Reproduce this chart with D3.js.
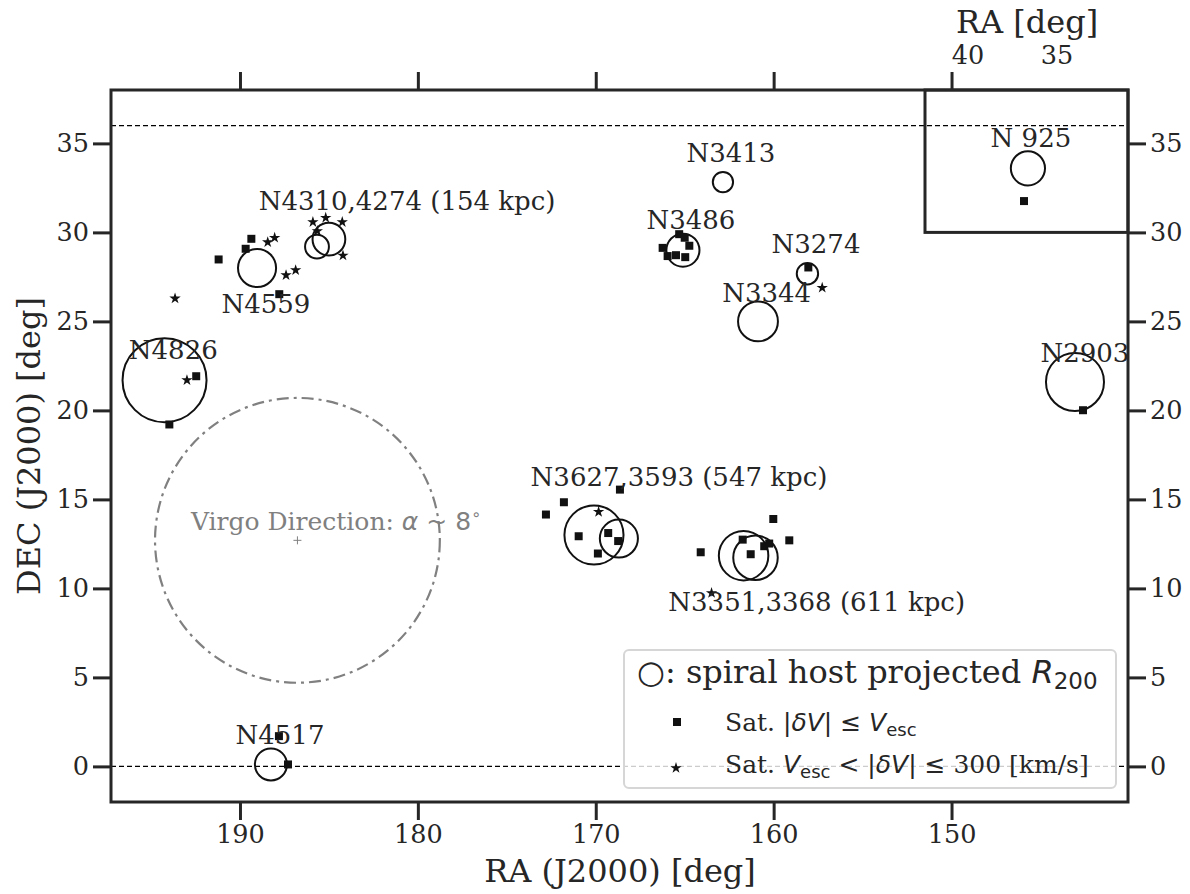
<!DOCTYPE html>
<html>
<head>
<meta charset="utf-8">
<script src="https://cdn.jsdelivr.net/npm/d3@7"></script>
<style>
body { margin: 0; background: #fff; }
text { font-family: "DejaVu Serif", serif; fill: #262626; }
</style>
</head>
<body>
<div id="chart-area"></div>
<script>
// spiral hosts (RA, DEC in deg, projected R200 in deg)
var hostName = ["N4826", "N4559", "N4310", "N4274", "N3413", "N3486", "N3274", "N3344", "N2903", "N3627", "N3593", "N3368", "N3351", "N4517"]
var hostRA = [194.24, 189.04, 185.67, 185.0, 162.85, 165.1, 158.1, 160.88, 143.06, 170.1, 168.7, 161.69, 161.02, 188.26]
var hostDec = [21.7, 28.0, 29.2, 29.62, 32.83, 29.0, 27.68, 25.0, 21.6, 13.0, 12.8, 11.84, 11.72, 0.11]
var hostR200 = [2.36, 1.07, 0.67, 0.92, 0.57, 0.93, 0.6, 1.12, 1.63, 1.66, 1.07, 1.39, 1.25, 0.9]

// satellites with |dV| <= Vesc
var boundRA = [189.36, 189.68, 191.20, 187.79, 192.46, 193.97, 165.31, 165.0, 166.24, 164.74, 165.96, 165.49, 164.97, 158.05,
  172.80, 171.79, 168.64, 170.96, 169.30, 168.74, 169.88, 164.10, 161.74, 161.29, 160.53, 160.25, 160.02, 159.12, 187.81, 187.30, 142.61]
var boundDec = [29.64, 29.08, 28.48, 26.53, 21.92, 19.21, 29.90, 29.70, 29.13, 29.25, 28.67, 28.72, 28.61, 28.03,
  14.15, 14.84, 15.55, 12.93, 13.11, 12.66, 11.96, 12.03, 12.74, 11.92, 12.37, 12.52, 13.90, 12.70, 1.70, 0.11, 20.01]

// satellites with Vesc < |dV| <= 300 km/s
var unboundRA = [188.44, 188.05, 187.41, 186.87, 193.65, 185.90, 185.18, 184.25, 185.65, 184.21, 192.98, 157.27, 169.84, 163.49]
var unboundDec = [29.45, 29.70, 27.60, 27.88, 26.29, 30.58, 30.82, 30.58, 30.08, 28.70, 21.70, 26.89, 14.30, 9.74]

// annotation labels
var labelText = ["N4310,4274 (154 kpc)", "N4559", "N4826", "N3413", "N3486", "N3274", "N3344", "N2903", "N3627,3593 (547 kpc)", "N3351,3368 (611 kpc)", "N4517"]
var labelRA = [180.61, 188.54, 193.75, 162.40, 164.65, 157.62, 160.39, 142.5, 165.32, 157.58, 187.75]
var labelDec = [31.25, 25.5, 22.88, 33.95, 30.17, 28.85, 26.1, 22.7, 15.74, 8.73, 1.27]

// N925 inset
var insetRA = [36.63], insetDec = [33.6], insetR200 = [0.96]
var insetSatRA = [36.85], insetSatDec = [31.76]
var insetTicks = [40, 35]

// Virgo direction
var virgoRA = 186.77, virgoDec = 12.7, virgoR = 8.0

var xTicks = [190, 180, 170, 160, 150]
var yTicks = [0, 5, 10, 15, 20, 25, 30, 35]

var W = 1190, H = 894
var m = {left: 111, right: 1128, top: 90, bottom: 802}

var svg = d3.select("#chart-area").append("svg")
.attr("width", W)
.attr("height", H)

var x = d3.scaleLinear().domain([197.25, 140.08]).range([m.left, m.right])
var y = d3.scaleLinear().domain([-2, 38]).range([m.bottom, m.top])
var xi = d3.scaleLinear().domain([42.42, 31.0]).range([925, m.right])
var rpx = r => y(0) - y(r)

var ink = "#262626"

// dashed DEC limits
svg.selectAll(".dec-line").data([0, 36]).enter().append("line")
.attr("x1", m.left).attr("x2", m.right)
.attr("y1", d => y(d)).attr("y2", d => y(d))
.attr("stroke", "#000").attr("stroke-width", 1.2)
.attr("stroke-dasharray", "5,3")

// Virgo circle
svg.append("circle")
.attr("cx", x(virgoRA)).attr("cy", y(virgoDec)).attr("r", rpx(virgoR))
.attr("fill", "none").attr("stroke", "#808080").attr("stroke-width", 2.2)
.attr("stroke-dasharray", "12,5,3,5")
svg.append("g").attr("transform", "translate(" + x(virgoRA) + "," + y(virgoDec) + ")")
.selectAll("line").data([[-4, 0, 4, 0], [0, -4, 0, 4]]).enter().append("line")
.attr("x1", d => d[0]).attr("y1", d => d[1]).attr("x2", d => d[2]).attr("y2", d => d[3])
.attr("stroke", "#808080").attr("stroke-width", 1)

var vt = svg.append("text")
.attr("x", x(184.6)).attr("y", y(13.27))
.attr("text-anchor", "middle")
.attr("font-size", "25px")
.style("fill", "#808080")
vt.append("tspan").style("fill", "#808080").text("Virgo Direction: ")
vt.append("tspan").style("font-family", "DejaVu Sans").style("font-style", "italic").style("fill", "#808080").text("α")
vt.append("tspan").style("font-family", "DejaVu Sans").style("fill", "#808080").text(" ~ 8")
vt.append("tspan").style("font-family", "DejaVu Sans").style("fill", "#808080").attr("font-size", "16px").attr("dy", -10).text("∘")

// host circles
svg.selectAll(".host").data(hostRA).enter().append("circle")
.attr("class", "host")
.attr("cx", (d) => x(d))
.attr("cy", (d, i) => y(hostDec[i]))
.attr("r", (d, i) => rpx(hostR200[i]))
.attr("fill", "none").attr("stroke", "#111").attr("stroke-width", 2)

// satellites
var square = d3.symbol(d3.symbolSquare, 64)()
var star = d3.symbol(d3.symbolStar, 40)()

svg.selectAll(".bound").data(boundRA).enter().append("path")
.attr("d", square)
.attr("transform", (d, i) => "translate(" + x(d) + "," + y(boundDec[i]) + ")")
.attr("fill", "#111")

svg.selectAll(".unbound").data(unboundRA).enter().append("path")
.attr("d", star)
.attr("transform", (d, i) => "translate(" + x(d) + "," + y(unboundDec[i]) + ")")
.attr("fill", "#111")

// labels
svg.selectAll(".lab").data(labelText).enter().append("text")
.attr("x", (d, i) => x(labelRA[i]))
.attr("y", (d, i) => y(labelDec[i]))
.attr("text-anchor", "middle")
.attr("font-size", "26px")
.text(d => d)

// inset
svg.append("rect")
.attr("x", xi.range()[0]).attr("y", m.top)
.attr("width", xi.range()[1] - xi.range()[0]).attr("height", y(30) - m.top)
.attr("fill", "none").attr("stroke", ink).attr("stroke-width", 3)
svg.selectAll(".ihost").data(insetRA).enter().append("circle")
.attr("cx", d => xi(d)).attr("cy", (d, i) => y(insetDec[i]))
.attr("r", (d, i) => rpx(insetR200[i]))
.attr("fill", "none").attr("stroke", "#111").attr("stroke-width", 2)
svg.selectAll(".isat").data(insetSatRA).enter().append("path")
.attr("d", square)
.attr("transform", (d, i) => "translate(" + xi(d) + "," + y(insetSatDec[i]) + ")")
.attr("fill", "#111")
svg.append("text")
.attr("x", xi(36.46)).attr("y", y(34.81))
.attr("text-anchor", "middle").attr("font-size", "26px")
.text("N 925")
svg.selectAll(".itick").data(insetTicks).enter().append("text")
.attr("x", d => xi(d)).attr("y", 64)
.attr("text-anchor", "middle").attr("font-size", "25.5px")
.text(d => d)
svg.append("text")
.attr("x", 1027).attr("y", 33)
.attr("text-anchor", "middle").attr("font-size", "32px")
.text("RA [deg]")

// axes
function styleAxis(g) {
  g.select(".domain").remove()
  g.selectAll(".tick line").attr("stroke", ink).attr("stroke-width", 3)
  g.selectAll(".tick text").attr("font-size", "25.5px").style("font-family", "DejaVu Serif").style("fill", ink)
}

svg.append("g").attr("transform", "translate(0," + m.bottom + ")")
.call(d3.axisBottom(x).tickValues(xTicks).tickSize(18).tickPadding(5))
.call(styleAxis)
svg.append("g").attr("transform", "translate(0," + m.top + ")")
.call(d3.axisTop(x).tickValues(xTicks).tickSize(18).tickFormat(""))
.call(styleAxis)
svg.append("g").attr("transform", "translate(" + m.left + ",0)")
.call(d3.axisLeft(y).tickValues(yTicks).tickSize(18).tickPadding(4))
.call(styleAxis)
svg.append("g").attr("transform", "translate(" + m.right + ",0)")
.call(d3.axisRight(y).tickValues(yTicks).tickSize(18).tickPadding(4))
.call(styleAxis)

// frame
svg.append("rect")
.attr("x", m.left).attr("y", m.top)
.attr("width", m.right - m.left).attr("height", m.bottom - m.top)
.attr("fill", "none").attr("stroke", ink).attr("stroke-width", 3)

// axis labels
svg.append("text")
.attr("x", 620).attr("y", 882)
.attr("text-anchor", "middle").attr("font-size", "32px")
.text("RA (J2000) [deg]")
svg.append("text")
.attr("transform", "translate(40," + (m.top + m.bottom) / 2 + ") rotate(-90)")
.attr("text-anchor", "middle").attr("font-size", "32px")
.text("DEC (J2000) [deg]")

// legend
var lg = svg.append("g")
lg.append("rect")
.attr("x", 624).attr("y", 650).attr("width", 492).attr("height", 138)
.attr("rx", 5)
.attr("fill", "#fff").attr("fill-opacity", 0.8)
.attr("stroke", "#d6d6d6").attr("stroke-width", 2)

var sans = t => t.style("font-family", "DejaVu Sans")
var l1 = lg.append("text").attr("x", 637).attr("y", 683).attr("font-size", "32px")
l1.append("tspan").text("○: spiral host projected ")
l1.append("tspan").call(sans).style("font-style", "italic").text("R")
l1.append("tspan").call(sans).attr("font-size", "23px").attr("dy", 6).text("200")

lg.append("path").attr("d", square).attr("transform", "translate(677,722)").attr("fill", "#111")
var l2 = lg.append("text").attr("x", 725).attr("y", 731).attr("font-size", "25px")
l2.append("tspan").text("Sat. ")
l2.append("tspan").call(sans).text("|")
l2.append("tspan").call(sans).style("font-style", "italic").text("δV")
l2.append("tspan").call(sans).text("| ≤ ")
l2.append("tspan").call(sans).style("font-style", "italic").text("V")
l2.append("tspan").call(sans).attr("font-size", "18px").attr("dy", 5).text("esc")

lg.append("path").attr("d", star).attr("transform", "translate(676,768)").attr("fill", "#111")
var l3 = lg.append("text").attr("x", 725).attr("y", 773).attr("font-size", "25px")
l3.append("tspan").text("Sat. ")
l3.append("tspan").call(sans).style("font-style", "italic").text("V")
l3.append("tspan").call(sans).attr("font-size", "18px").attr("dy", 5).text("esc")
l3.append("tspan").call(sans).attr("dy", -5).text(" < |")
l3.append("tspan").call(sans).style("font-style", "italic").text("δV")
l3.append("tspan").call(sans).text("| ≤ ")
l3.append("tspan").text("300 [km/s]")
</script>
</body>
</html>
